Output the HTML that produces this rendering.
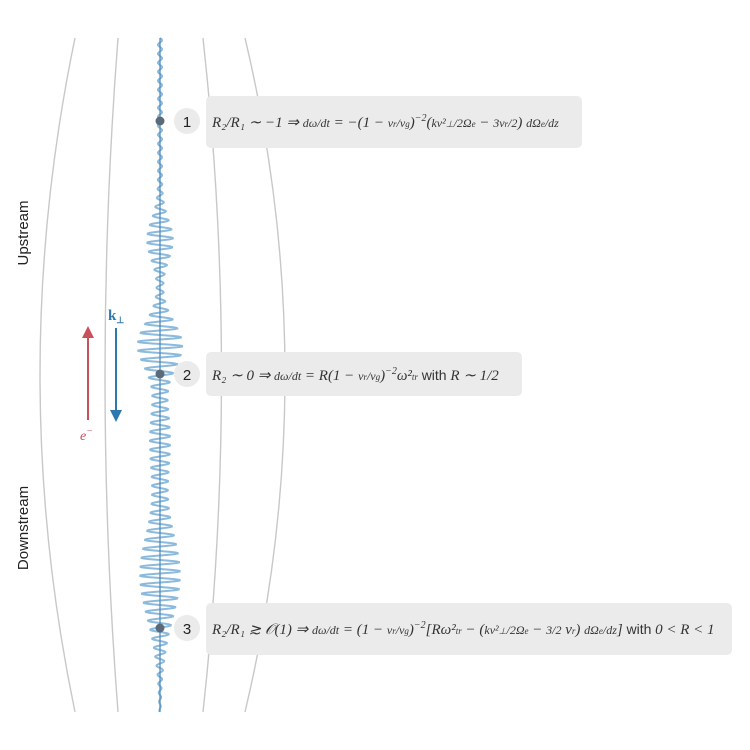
<!DOCTYPE html>
<html><head><meta charset="utf-8"><style>
body{margin:0;background:#fff}
svg{display:block}
.m{font-family:"Liberation Serif",serif;font-style:italic;font-size:15px;fill:#333}
.s{font-family:"Liberation Sans",sans-serif;font-size:15px;fill:#222}
</style></head><body>
<svg id="g" width="750" height="750" viewBox="0 0 750 750">
<g fill="none" stroke="#c8c8c8" stroke-width="1.4">
<path d="M75 38 Q5 375 75 712"/>
<path d="M118 38 Q92 375 118 712"/>
<path d="M203 38 Q240 375 203 712"/>
<path d="M245 38 Q325 375 245 712"/>
</g>
<path id="w" fill="none" stroke="#8cbadc" stroke-width="2"/>
<line x1="160" y1="38" x2="160" y2="712" stroke="#4a86b8" stroke-width="1.2"/>
<text class="s" transform="translate(28,233) rotate(-90)" text-anchor="middle">Upstream</text>
<text class="s" transform="translate(28,528) rotate(-90)" text-anchor="middle">Downstream</text>
<line x1="88" y1="420" x2="88" y2="336" stroke="#c8505a" stroke-width="2"/>
<path d="M82 338 L88 326 L94 338Z" fill="#c8505a"/>
<text class="m" x="80" y="440" style="fill:#c8505a;font-size:14px">e<tspan dy="-6" font-size="10">−</tspan></text>
<line x1="116" y1="328" x2="116" y2="412" stroke="#2e78b0" stroke-width="2"/>
<path d="M110 410 L116 422 L122 410Z" fill="#2e78b0"/>
<text x="108" y="320" style="font-family:'Liberation Serif',serif;font-weight:bold;font-size:15px;fill:#2e78b0">k<tspan font-size="9" dy="3">⊥</tspan></text>
<g fill="#ebebeb">
<rect x="206" y="96" width="376" height="52" rx="5"/>
<rect x="206" y="352" width="316" height="44" rx="5"/>
<rect x="206" y="603" width="526" height="52" rx="5"/>
<circle cx="187" cy="121" r="13"/><circle cx="187" cy="374" r="13"/><circle cx="187" cy="628" r="13"/>
</g>
<g fill="#5a6a78"><circle cx="160" cy="121" r="4.5"/><circle cx="160" cy="374" r="4.5"/><circle cx="160" cy="628" r="4.5"/></g>
<g class="s" text-anchor="middle" style="font-size:15px"><text x="187" y="127">1</text><text x="187" y="380">2</text><text x="187" y="634">3</text></g>
<text class="m" x="212" y="127">R₂/R₁ ∼ −1 ⇒ <tspan font-size="12">dω/dt</tspan> = −(1 − <tspan font-size="12">v<tspan font-size="9">r</tspan>/v<tspan font-size="9">g</tspan></tspan>)<tspan dy="-6" font-size="10">−2</tspan><tspan dy="6">(</tspan><tspan font-size="12">kv²<tspan font-size="9">⊥</tspan>/2Ω<tspan font-size="9">e</tspan></tspan> − <tspan font-size="12">3v<tspan font-size="9">r</tspan>/2</tspan>) <tspan font-size="12">dΩ<tspan font-size="9">e</tspan>/dz</tspan></text>
<text class="m" x="212" y="380">R₂ ∼ 0 ⇒ <tspan font-size="12">dω/dt</tspan> = R(1 − <tspan font-size="12">v<tspan font-size="9">r</tspan>/v<tspan font-size="9">g</tspan></tspan>)<tspan dy="-6" font-size="10">−2</tspan><tspan dy="6">ω²</tspan><tspan font-size="9">tr</tspan> <tspan style="font-family:'Liberation Sans',sans-serif;font-style:normal;font-size:14px">with</tspan> R ∼ 1/2</text>
<text class="m" x="212" y="634">R₂/R₁ ≳ 𝒪(1) ⇒ <tspan font-size="12">dω/dt</tspan> = (1 − <tspan font-size="12">v<tspan font-size="9">r</tspan>/v<tspan font-size="9">g</tspan></tspan>)<tspan dy="-6" font-size="10">−2</tspan><tspan dy="6">[</tspan>Rω²<tspan font-size="9">tr</tspan> − (<tspan font-size="12">kv²<tspan font-size="9">⊥</tspan>/2Ω<tspan font-size="9">e</tspan></tspan> − <tspan font-size="12">3/2</tspan> v<tspan font-size="9">r</tspan>) <tspan font-size="12">dΩ<tspan font-size="9">e</tspan>/dz</tspan>] <tspan style="font-family:'Liberation Sans',sans-serif;font-style:normal;font-size:14px">with</tspan> 0 &lt; R &lt; 1</text>
</svg>
<script>
function env(y){
 var a=2;
 a+=11*Math.exp(-Math.pow((y-240)/28,2));
 a+=20*Math.exp(-Math.pow((y-345)/32,2));
 a+=8*Math.exp(-Math.pow((y-440)/55,2));
 a+=18*Math.exp(-Math.pow((y-575)/60,2));
 if(y>660)a*=Math.max(0.3,1-(y-660)/70);
 return a;}
var d="M160 38";
for(var y=38;y<=712;y+=0.5){var x=160+env(y)*Math.sin((y-38)/9*2*Math.PI);d+=" L"+x.toFixed(1)+" "+y;}
document.getElementById("w").setAttribute("d",d);
</script>
</body></html>
